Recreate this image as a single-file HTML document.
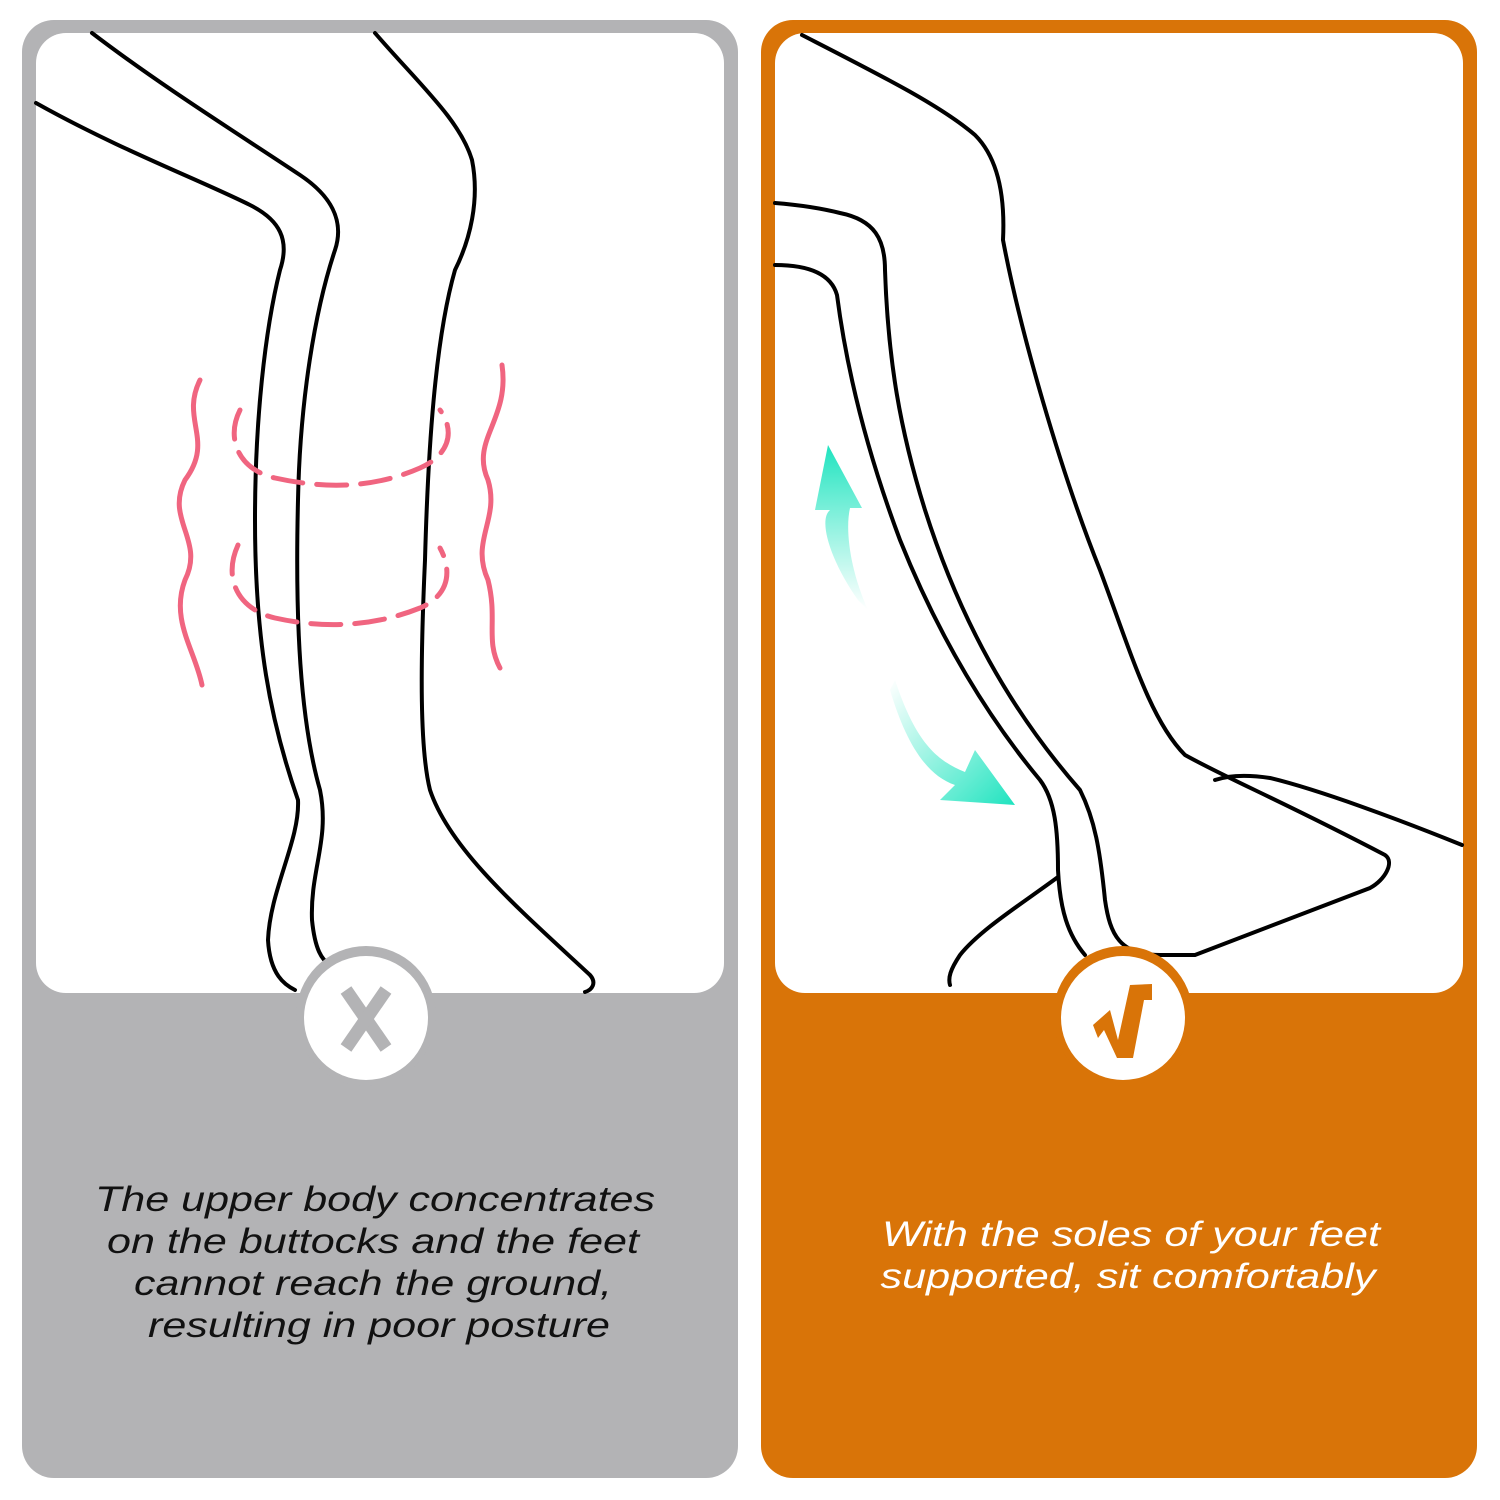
<!DOCTYPE html>
<html><head><style>
html,body{margin:0;padding:0;background:#fff;width:1500px;height:1500px;overflow:hidden}
svg{display:block}
text{font-family:"Liberation Sans",sans-serif;font-style:italic;font-size:35px}
</style></head><body>
<svg width="1500" height="1500" viewBox="0 0 1500 1500" xmlns="http://www.w3.org/2000/svg">
<defs>
<linearGradient id="g1" x1="0" y1="1" x2="0" y2="0"><stop offset="0" stop-color="#2ee8c4" stop-opacity="0"/><stop offset="1" stop-color="#1fe3bf"/></linearGradient>
<linearGradient id="g2" x1="0" y1="0" x2="1" y2="1"><stop offset="0" stop-color="#2ee8c4" stop-opacity="0"/><stop offset="1" stop-color="#1fe3bf"/></linearGradient>
</defs>
<rect x="22" y="20" width="716" height="1458" rx="32" fill="#b3b3b5"/>
<rect x="36" y="33" width="688" height="960" rx="30" fill="#fff"/>
<rect x="761" y="20" width="716" height="1458" rx="32" fill="#d97408"/>
<rect x="775" y="33" width="688" height="960" rx="30" fill="#fff"/>
<g fill="none" stroke="#000" stroke-width="4" stroke-linecap="round">
<path d="M36 103 C120 150 200 180 250 205 C280 220 290 240 280 270 C265 330 255 420 255 520 C255 640 270 720 298 800 C300 840 270 890 268 940 C270 975 285 985 295 990"/>
<path d="M92 33 C160 85 240 135 300 175 C330 195 345 220 335 250 C315 310 300 400 298 500 C295 620 300 720 320 790 C330 840 310 870 312 920 C315 950 322 960 330 965"/>
<path d="M375 33 C420 85 460 120 472 160 C480 200 470 240 455 270 C435 340 428 450 425 560 C420 670 420 750 430 790 C450 850 520 910 590 975 C597 983 592 990 585 992"/>
<path d="M802 35 C880 75 940 105 975 135 C1000 160 1005 200 1003 240 C1020 330 1060 470 1100 570 C1130 650 1150 720 1185 755 C1230 780 1280 800 1385 855 C1395 862 1385 880 1370 888 L1195 955 L1160 955 C1120 955 1110 935 1105 900 C1100 850 1095 820 1080 790 C1010 710 960 620 925 510 C900 430 888 360 885 270 C885 240 875 220 840 213 C820 208 800 205 775 203"/>
<path d="M775 265 C800 265 830 270 837 295 C848 380 870 460 900 540 C940 640 990 720 1040 780 C1055 800 1058 830 1058 870 C1060 910 1068 935 1085 955"/>
<path d="M1058 877 C1020 905 980 930 960 955 C950 970 948 978 950 985"/>
<path d="M1215 780 C1230 775 1250 775 1270 778 C1320 790 1400 820 1462 845"/>
</g>
<g fill="none" stroke="#f06580" stroke-width="5" stroke-linecap="round">
<path d="M200 380 C180 420 215 440 185 480 C165 520 205 540 185 580 C170 620 195 650 202 685"/>
<path d="M502 365 C510 420 470 440 488 480 C500 520 470 540 488 580 C498 620 485 640 500 668"/>
<path d="M240 410 C225 440 240 470 275 478 C320 488 370 490 420 468 C450 455 455 430 440 410" stroke-dasharray="30 14"/>
<path d="M238 545 C222 580 240 610 275 618 C320 628 370 628 420 608 C450 595 452 570 440 548" stroke-dasharray="30 14"/>
</g>
<path d="M858 600 C830 560 818 520 830 510 L815 510 L828 445 L862 508 L850 508 C845 530 850 570 868 610 Z" fill="url(#g1)"/>
<path d="M895 680 C915 740 935 760 965 772 L975 750 L1015 805 L940 800 L955 785 C925 775 905 740 890 690 Z" fill="url(#g2)"/>
<circle cx="366" cy="1016" r="70" fill="#b3b3b5"/>
<circle cx="366" cy="1018" r="62" fill="#fff"/>
<g stroke="#b3b3b5" stroke-width="13"><line x1="346" y1="990" x2="386" y2="1048"/><line x1="386" y1="990" x2="346" y2="1048"/></g>
<circle cx="1123" cy="1016" r="70" fill="#d97408"/>
<circle cx="1123" cy="1018" r="62" fill="#fff"/>
<path d="M1093 1025 L1110 1010 L1118 1040 L1130 985 L1152 984 L1152 1000 L1144 1000 L1133 1058 L1117 1058 L1104 1030 L1098 1038 Z" fill="#d97408"/>
<g fill="#111" text-anchor="middle">
<text x="375" y="1211" textLength="560" lengthAdjust="spacingAndGlyphs">The upper body concentrates</text>
<text x="373" y="1253" textLength="532" lengthAdjust="spacingAndGlyphs">on the buttocks and the feet</text>
<text x="373" y="1295" textLength="478" lengthAdjust="spacingAndGlyphs">cannot reach the ground,</text>
<text x="379" y="1337" textLength="462" lengthAdjust="spacingAndGlyphs">resulting in poor posture</text>
</g>
<g fill="#fff" text-anchor="middle">
<text x="1131" y="1246" textLength="498" lengthAdjust="spacingAndGlyphs">With the soles of your feet</text>
<text x="1128" y="1288" textLength="495" lengthAdjust="spacingAndGlyphs">supported, sit comfortably</text>
</g>
</svg>
</body></html>
